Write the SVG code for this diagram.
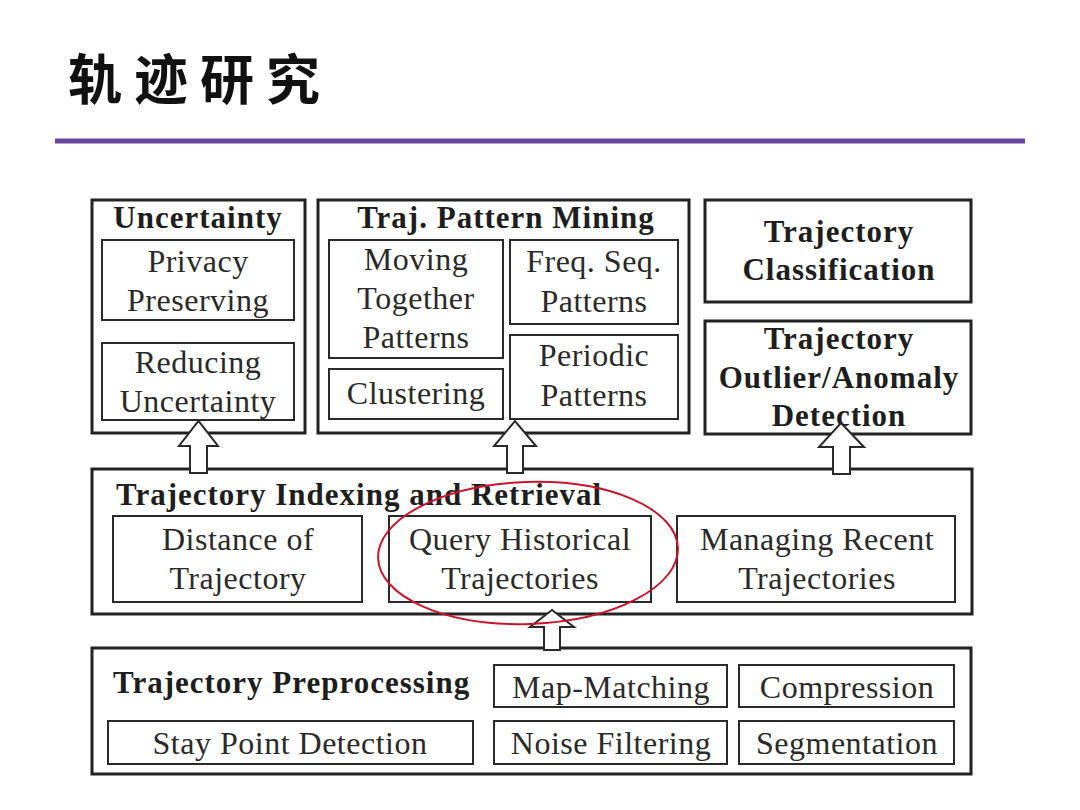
<svg xmlns="http://www.w3.org/2000/svg" width="1080" height="810" viewBox="0 0 1080 810">
<style>
.outer{fill:none;stroke:#222;stroke-width:3}
.inner{fill:none;stroke:#2a2a2a;stroke-width:2}
.t{font-family:"Liberation Serif","Times New Roman",serif;font-size:32px;fill:#2a2a2a;text-anchor:middle;letter-spacing:0.5px}
.b{font-family:"Liberation Serif","Times New Roman",serif;font-size:31px;font-weight:bold;fill:#1e1e1e;letter-spacing:1px}
.arrow{fill:#fff;stroke:#2a2a2a;stroke-width:2;stroke-linejoin:miter}
</style>
<rect width="1080" height="810" fill="#fff"/>
<text x="68" y="100" font-family="'Noto Sans CJK SC',sans-serif" font-size="54" font-weight="bold" letter-spacing="12" fill="#111">轨迹研究</text>
<rect x="55" y="138.5" width="970" height="5" fill="#65479a"/>

<g id="uncertainty">
<rect class="outer" x="92" y="200" width="213" height="233"/>
<text class="b" x="198" y="228" text-anchor="middle">Uncertainty</text>
</g>
<g id="privacy">
<rect class="inner" x="102" y="240" width="192" height="80"/>
<text class="t" x="198" y="272">Privacy</text>
<text class="t" x="198" y="311">Preserving</text>
</g>
<g id="reducing">
<rect class="inner" x="102" y="343" width="192" height="77"/>
<text class="t" x="198" y="373">Reducing</text>
<text class="t" x="198" y="412">Uncertainty</text>
</g>

<g id="pattern-mining">
<rect class="outer" x="318" y="200" width="371" height="233"/>
<text class="b" x="506" y="228" text-anchor="middle">Traj. Pattern Mining</text>
</g>
<g id="moving-together">
<rect class="inner" x="329" y="240" width="174" height="118"/>
<text class="t" x="416" y="270">Moving</text>
<text class="t" x="416" y="309">Together</text>
<text class="t" x="416" y="348">Patterns</text>
</g>
<g id="clustering">
<rect class="inner" x="329" y="369" width="174" height="50"/>
<text class="t" x="416" y="404">Clustering</text>
</g>
<g id="freq-seq">
<rect class="inner" x="510" y="240" width="168" height="84"/>
<text class="t" x="594" y="272">Freq. Seq.</text>
<text class="t" x="594" y="312">Patterns</text>
</g>
<g id="periodic">
<rect class="inner" x="510" y="335" width="168" height="84"/>
<text class="t" x="594" y="366">Periodic</text>
<text class="t" x="594" y="406">Patterns</text>
</g>

<g id="classification">
<rect class="outer" x="705" y="200" width="266" height="102"/>
<text class="b" x="839" y="242" text-anchor="middle">Trajectory</text>
<text class="b" x="839" y="280" text-anchor="middle">Classification</text>
</g>
<g id="outlier">
<rect class="outer" x="705" y="321" width="266" height="113"/>
<text class="b" x="839" y="349" text-anchor="middle">Trajectory</text>
<text class="b" x="839" y="388" text-anchor="middle">Outlier/Anomaly</text>
<text class="b" x="839" y="426" text-anchor="middle">Detection</text>
</g>

<g id="indexing">
<rect class="outer" x="92" y="469" width="880" height="145"/>
<text class="b" x="116" y="505">Trajectory Indexing and Retrieval</text>
</g>
<g id="distance">
<rect class="inner" x="113" y="516" width="249" height="86"/>
<text class="t" x="238" y="550">Distance of</text>
<text class="t" x="238" y="589">Trajectory</text>
</g>
<g id="query-historical">
<rect class="inner" x="389" y="516" width="262" height="86"/>
<text class="t" x="520" y="550">Query Historical</text>
<text class="t" x="520" y="589">Trajectories</text>
</g>
<g id="managing-recent">
<rect class="inner" x="677" y="516" width="278" height="86"/>
<text class="t" x="817" y="550">Managing Recent</text>
<text class="t" x="817" y="589">Trajectories</text>
</g>

<g id="preprocessing">
<rect class="outer" x="92" y="648" width="879" height="126"/>
<text class="b" x="113" y="693">Trajectory Preprocessing</text>
</g>
<g id="stay-point">
<rect class="inner" x="108" y="721" width="365" height="43"/>
<text class="t" x="290" y="754">Stay Point Detection</text>
</g>
<g id="map-matching">
<rect class="inner" x="494" y="665" width="233" height="42"/>
<text class="t" x="611" y="698">Map-Matching</text>
</g>
<g id="noise-filtering">
<rect class="inner" x="494" y="721" width="233" height="43"/>
<text class="t" x="611" y="754">Noise Filtering</text>
</g>
<g id="compression">
<rect class="inner" x="739" y="665" width="215" height="42"/>
<text class="t" x="847" y="698">Compression</text>
</g>
<g id="segmentation">
<rect class="inner" x="739" y="721" width="215" height="43"/>
<text class="t" x="847" y="754">Segmentation</text>
</g>

<g id="connectors">
<path class="arrow" d="M190,473 L190,446 L179,446 L198.5,421 L218,446 L207,446 L207,473 Z"/>
<path class="arrow" d="M507,473 L507,446 L494,446 L515,421 L536,446 L523,446 L523,473 Z"/>
<path class="arrow" d="M833,474 L833,447 L819,447 L841,423 L864,447 L850,447 L850,474 Z"/>
<path class="arrow" d="M544,650 L544,627 L530,627 L552,610 L574,627 L560,627 L560,650 Z"/>
<ellipse cx="528" cy="553" rx="150" ry="71" fill="none" stroke="#c8142c" stroke-width="2" transform="rotate(-2 528 553)"/>
</g>
</svg>
